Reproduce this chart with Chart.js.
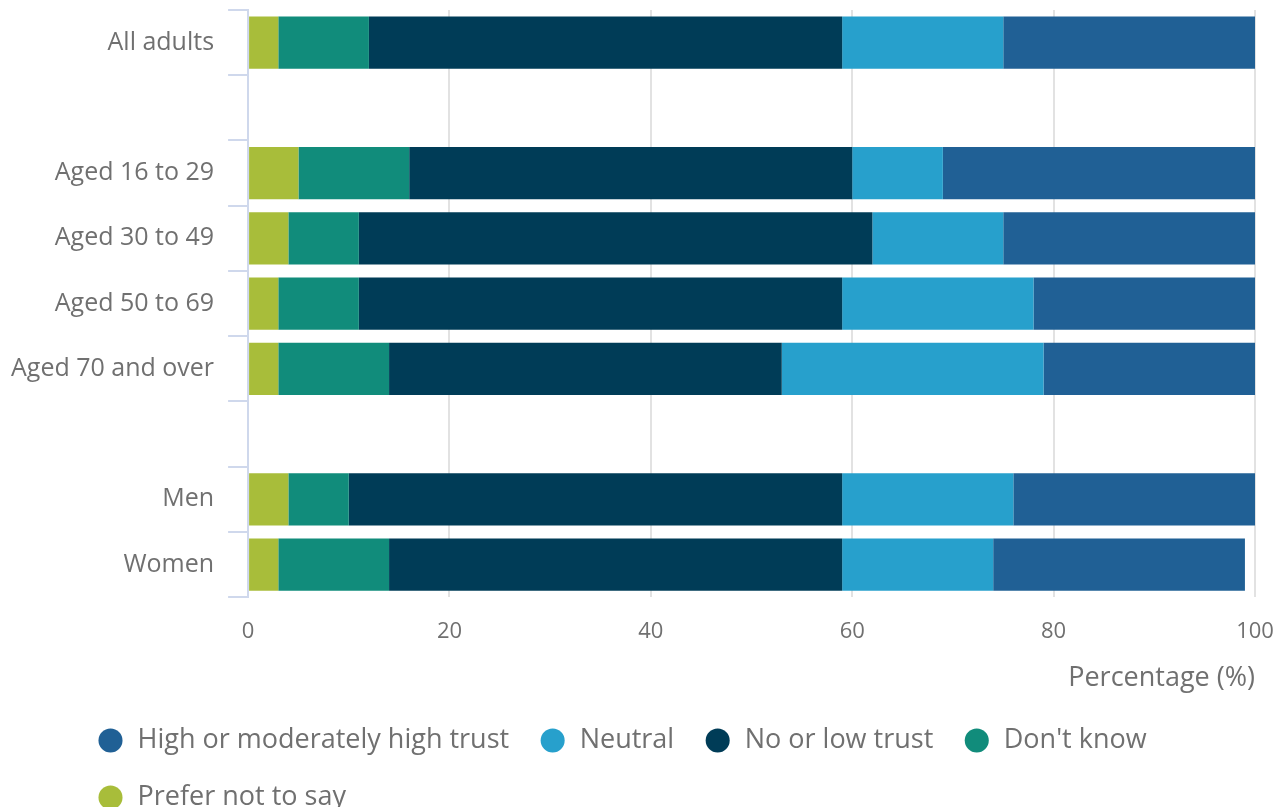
<!DOCTYPE html>
<html>
<head>
<meta charset="utf-8">
<script src="https://cdn.jsdelivr.net/npm/chart.js@4.4.1/dist/chart.umd.min.js"></script>
<style>
  html, body { margin: 0; padding: 0; background: #fff; }
  #wrap { width: 1285px; height: 807px; }
</style>
</head>
<body>
<div id="wrap"><canvas id="chart-trust"></canvas></div>
<script>
// Trust levels by group, percentages (blank rows split the groups)
const groups = ['All adults', '', 'Aged 16 to 29', 'Aged 30 to 49', 'Aged 50 to 69', 'Aged 70 and over', '', 'Men', 'Women'];
const preferNotToSay = [3, null, 5, 4, 3, 3, null, 4, 3];
const dontKnow = [9, null, 11, 7, 8, 11, null, 6, 11];
const noOrLowTrust = [47, null, 44, 51, 48, 39, null, 49, 45];
const neutral = [16, null, 9, 13, 19, 26, null, 17, 15];
const highTrust = [25, null, 31, 25, 22, 21, null, 24, 25];
const xTicks = [0, 20, 40, 60, 80, 100];

const textColor = '#707070';
const axisColor = '#cfd8ec';
const gridColor = '#e2e2e2';

Chart.defaults.font.family = '"Open Sans", sans-serif';
Chart.defaults.color = textColor;

// legend sits indented from the left edge
const legendShift = {
    id: 'legendShift',
    afterLayout(chart) {
        const lg = chart.legend;
        if (lg) lg.left += 70;
    }
};

// drop the extra room scales keep for their end labels
const noEdgePadding = scale => {
    scale.paddingTop = 0;
    scale.paddingBottom = 0;
    scale.paddingLeft = 0;
    scale.paddingRight = 0;
};

new Chart(document.getElementById('chart-trust'), {
    type: 'bar',
    data: {
        labels: groups,
        datasets: [
            { label: 'Prefer not to say', data: preferNotToSay, backgroundColor: '#a8bd3a' },
            { label: "Don't know", data: dontKnow, backgroundColor: '#118c7b' },
            { label: 'No or low trust', data: noOrLowTrust, backgroundColor: '#003c57' },
            { label: 'Neutral', data: neutral, backgroundColor: '#27a0cc' },
            { label: 'High or moderately high trust', data: highTrust, backgroundColor: '#206095' }
        ]
    },
    options: {
        indexAxis: 'y',
        responsive: true,
        maintainAspectRatio: false,
        animation: false,
        barPercentage: 1,
        categoryPercentage: 0.8,
        layout: { padding: { top: 10, right: 30, left: -3, bottom: -14 } },
        scales: {
            x: {
                stacked: true,
                min: 0,
                max: 100,
                afterBuildTicks: axis => { axis.ticks = xTicks.map(v => ({ value: v })); },
                afterFit: noEdgePadding,
                border: { display: false },
                grid: { color: gridColor, lineWidth: 2, drawTicks: false },
                ticks: { padding: 21, font: { size: 22 }, color: textColor },
                title: {
                    display: true,
                    text: 'Percentage (%)',
                    align: 'end',
                    font: { size: 27 },
                    color: textColor,
                    padding: { top: -3, bottom: 2 }
                }
            },
            y: {
                stacked: true,
                afterFit: noEdgePadding,
                border: { color: axisColor, width: 2 },
                grid: { offset: true, drawOnChartArea: false, tickLength: 20, color: axisColor, lineWidth: 2 },
                ticks: { padding: 14, font: { size: 25 }, color: textColor }
            }
        },
        plugins: {
            legend: {
                position: 'bottom',
                align: 'start',
                reverse: true,
                labels: {
                    usePointStyle: true,
                    pointStyle: 'circle',
                    boxWidth: 27,
                    boxHeight: 17,
                    padding: 30,
                    font: { size: 27 },
                    color: textColor
                }
            },
            tooltip: { enabled: false }
        }
    },
    plugins: [legendShift]
});
</script>
</body>
</html>
